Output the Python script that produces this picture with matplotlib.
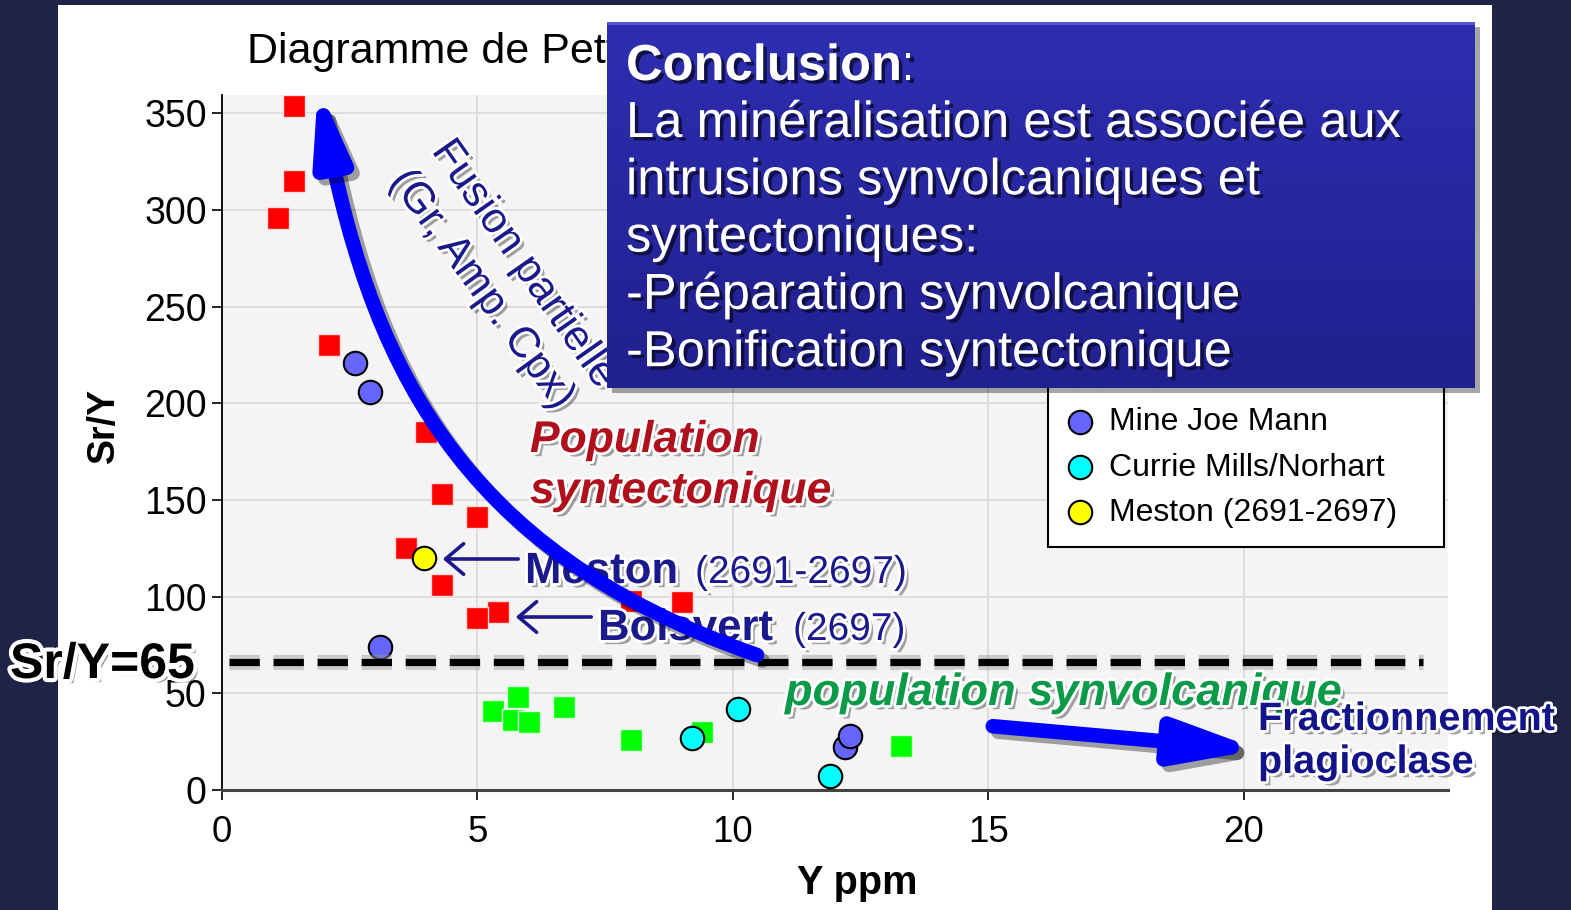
import numpy as np
import matplotlib
matplotlib.use("Agg")
import matplotlib.pyplot as plt
import matplotlib.patheffects as pe
from matplotlib.patches import FancyArrowPatch, Rectangle
from matplotlib.path import Path

W, H = 1571, 910
plt.rcParams['font.family'] = ['Liberation Sans', 'DejaVu Sans']

# --- data (Y ppm, Sr/Y) ---
synt_y = [1.4, 1.4, 1.1, 2.1, 4.0, 4.3, 5.0, 3.6, 4.3, 5.4, 5.0, 8.0, 9.0]
synt_sry = [354, 315, 296, 230, 185, 153, 141, 125, 106, 92, 89, 98, 97]
synv_y = [5.3, 5.8, 5.7, 6.0, 6.7, 8.0, 9.4, 13.3]
synv_sry = [41, 48, 36, 35, 43, 26, 30, 23]
joe_y = [2.6, 2.9, 3.1, 12.2, 12.3]
joe_sry = [221, 206, 74, 22, 28]
currie_y = [10.1, 9.2, 11.9]
currie_sry = [42, 27, 7]
meston_y = [3.95]
meston_sry = [120]
threshold = 66

legend_labels = ["Mine Joe Mann", "Currie Mills/Norhart", "Meston (2691-2697)"]
box_lines = ["La minéralisation est associée aux",
             "intrusions synvolcaniques et",
             "syntectoniques:",
             "-Préparation synvolcanique",
             "-Bonification syntectonique"]


def fp(px, py):
    # figure fraction from pixel position (top-left origin)
    return (px / W, 1 - py / H)


fig = plt.figure(figsize=(W / 100, H / 100), dpi=100)
fig.patch.set_facecolor('#1f2345')
fig.add_artist(Rectangle(fp(58, 910), (1492 - 58) / W, (910 - 5) / H,
                         transform=fig.transFigure, facecolor='white',
                         edgecolor='none', zorder=-1))

ax = fig.add_axes([222 / W, 1 - 790 / H, (1448 - 222) / W, (790 - 95) / H])
ax.set_facecolor('#f4f4f4')
ax.set_xlim(0, 24)
ax.set_ylim(0, 359.5)
ax.set_xticks([0, 5, 10, 15, 20])
ax.set_yticks(range(0, 351, 50))
ax.grid(True, color='#d9d9d9', lw=1.2)
ax.set_axisbelow(True)
for s in ['top', 'right']:
    ax.spines[s].set_visible(False)
ax.spines['left'].set_linewidth(1.3)
ax.spines['bottom'].set_linewidth(2.2)
ax.spines['bottom'].set_color('#444444')
ax.tick_params(axis='y', length=7, width=1.2, pad=4, labelsize=27)
ax.tick_params(axis='x', length=7, width=1.2, pad=11, labelsize=26.5)

ax.scatter(synt_y, synt_sry, marker='s', s=250, c='#ff0000',
           edgecolors='#ffdddd', linewidths=1.0, zorder=3)
ax.scatter(synv_y, synv_sry, marker='s', s=250, c='#00ff00',
           edgecolors='#ddffdd', linewidths=1.0, zorder=3)
jm = ax.scatter(joe_y, joe_sry, marker='o', s=285, c='#6666ff',
                edgecolors='black', linewidths=1.5, zorder=4)
cm = ax.scatter(currie_y, currie_sry, marker='o', s=285, c='#00ffff',
                edgecolors='black', linewidths=1.5, zorder=4)
me = ax.scatter(meston_y, meston_sry, marker='o', s=285, c='#ffff00',
                edgecolors='black', linewidths=1.5, zorder=4)

ax.axhline(threshold, xmin=0.006, xmax=0.98, color='black', lw=5.2,
           dashes=(4.2, 1.9), solid_capstyle='butt', zorder=5,
           path_effects=[pe.Stroke(linewidth=11, foreground='#999999', alpha=0.45),
                         pe.Normal()])

ax.set_xlabel("Y ppm", fontsize=28.5, fontweight='bold', va='baseline')
ax.xaxis.set_label_coords((857 - 222) / 1226, (790 - 894) / 695)
ax.set_ylabel("Sr/Y", fontsize=27, fontweight='bold', va='center')
ax.yaxis.set_label_coords((104 - 222) / 1226, (790 - 425) / 695)

leg = ax.legend(handles=[jm, cm, me], labels=legend_labels, loc='lower left',
                bbox_to_anchor=(1048 / W, 1 - 547 / H, (1444 - 1048) / W, 0.2),
                bbox_transform=fig.transFigure, mode='expand', frameon=True,
                fancybox=False, edgecolor='black', framealpha=1, fontsize=23,
                borderpad=0.6, handlelength=0.8, handletextpad=0.5,
                labelspacing=0.48, borderaxespad=0, scatterpoints=1,
                title=' ', title_fontsize=14)
leg.get_frame().set_linewidth(1.5)

fig.text(*fp(247, 63), "Diagramme de Petford", fontsize=31, va='baseline',
         ha='left', zorder=1)

# --- annotations ---
shadow = pe.SimplePatchShadow(offset=(3, -3), shadow_rgbFace='black', alpha=0.35)
outline = [shadow, pe.Stroke(linewidth=4, foreground='white'), pe.Normal()]
navy = '#1a1a8c'

fig.text(*fp(10, 678), "Sr/Y=65", fontsize=36, fontweight='bold', color='black',
         va='baseline', zorder=6,
         path_effects=[pe.SimplePatchShadow(offset=(3, -3), shadow_rgbFace='black', alpha=0.4),
                       pe.Stroke(linewidth=6, foreground='white'), pe.Normal()])

fig.text(*fp(431, 151), "Fusion partielle", fontsize=31, color=navy, rotation=-55,
         rotation_mode='anchor', ha='left', va='baseline', zorder=6, path_effects=outline)
fig.text(*fp(389, 181), "(Gr, Amp. Cpx)", fontsize=31, color=navy, rotation=-54,
         rotation_mode='anchor', ha='left', va='baseline', zorder=6, path_effects=outline)

red = '#b0101c'
fig.text(*fp(530, 452), "Population", fontsize=32, fontweight='bold', style='italic',
         color=red, va='baseline', zorder=6, path_effects=outline)
fig.text(*fp(530, 503), "syntectonique", fontsize=32, fontweight='bold', style='italic',
         color=red, va='baseline', zorder=6, path_effects=outline)

fig.text(*fp(525, 583), "Meston", fontsize=31.5, fontweight='bold', color=navy,
         va='baseline', zorder=6, path_effects=outline)
fig.text(*fp(695, 583), "(2691-2697)", fontsize=28, color=navy,
         va='baseline', zorder=6, path_effects=outline)
fig.text(*fp(598, 640), "Boisvert", fontsize=31.5, fontweight='bold', color=navy,
         va='baseline', zorder=6, path_effects=outline)
fig.text(*fp(793, 640), "(2697)", fontsize=28, color=navy,
         va='baseline', zorder=6, path_effects=outline)

fig.text(*fp(785, 705), "population synvolcanique", fontsize=32.5, fontweight='bold',
         style='italic', color='#0a9a48', va='baseline', zorder=6, path_effects=outline)

fig.text(*fp(1258, 730), "Fractionnement", fontsize=28.5, fontweight='bold',
         color='#14148a', va='baseline', zorder=8, path_effects=outline)
fig.text(*fp(1258, 773), "plagioclase", fontsize=28.5, fontweight='bold',
         color='#14148a', va='baseline', zorder=8, path_effects=outline)

# thin arrows pointing at Meston and Boisvert
for tail, tip in [((521, 559), (440, 559)), ((594, 617), (513, 617))]:
    fig.add_artist(FancyArrowPatch(fp(*tail), fp(*tip), transform=fig.transFigure,
                                   arrowstyle='->,head_length=0.65,head_width=0.55',
                                   mutation_scale=20, lw=2.6, color=navy, zorder=6))

arrow_fx = [pe.SimpleLineShadow(offset=(4, -4), shadow_color='black', alpha=0.35),
            pe.Normal()]

# big curved arrow (partial melting trend)
curve = [(757, 655), (455, 550), (368, 360), (318, 86)]
big = FancyArrowPatch(path=Path([fp(*p) for p in curve],
                                [Path.MOVETO, Path.CURVE4, Path.CURVE4, Path.CURVE4]),
                      transform=fig.transFigure,
                      arrowstyle='-|>,head_length=2.0,head_width=0.5',
                      mutation_scale=20, lw=10.5, color='#0000ff',
                      joinstyle='round', zorder=7, path_effects=arrow_fx)
fig.add_artist(big)

# arrow towards plagioclase fractionation
small = FancyArrowPatch(fp(990, 726), fp(1262, 750), transform=fig.transFigure,
                        arrowstyle='-|>,head_length=2.4,head_width=0.65',
                        mutation_scale=20, lw=10.5, color='#0000ff',
                        joinstyle='round', zorder=7, path_effects=arrow_fx)
fig.add_artist(small)

# --- conclusion box ---
bx0, by0, bx1, by1 = 607, 22, 1475, 388
fig.add_artist(Rectangle(fp(bx0 + 5, by1 + 5), (bx1 - bx0) / W, (by1 - by0) / H,
                         transform=fig.transFigure, facecolor='black', alpha=0.35,
                         edgecolor='none', zorder=9))
bax = fig.add_axes([bx0 / W, 1 - by1 / H, (bx1 - bx0) / W, (by1 - by0) / H], zorder=10)
grad = np.linspace(0, 1, 256)[:, None]
top_c = np.array([0x2e, 0x2e, 0xb2]) / 255
bot_c = np.array([0x20, 0x20, 0x8e]) / 255
img = top_c[None, None, :] * (1 - grad[..., None]) + bot_c[None, None, :] * grad[..., None]
bax.imshow(img, extent=[0, 1, 0, 1], aspect='auto')
bax.set_xlim(0, 1)
bax.set_ylim(0, 1)
bax.axhline(0.997, color='#5a5ad8', lw=2)
bax.axis('off')

txt_fx = [pe.SimplePatchShadow(offset=(2.5, -2.5), shadow_rgbFace='#0a0a30', alpha=0.8),
          pe.Normal()]
fig.text(*fp(626, 80), "Conclusion", fontsize=36.5, fontweight='bold', color='white',
         va='baseline', zorder=11, path_effects=txt_fx)
fig.text(*fp(901, 80), ":", fontsize=36.5, color='white', va='baseline', zorder=11,
         path_effects=txt_fx)
for i, line in enumerate(box_lines):
    fig.text(*fp(626, 137 + i * 57.3), line, fontsize=36.5, color='white',
             va='baseline', zorder=11, path_effects=txt_fx)

fig.savefig("out.png", dpi=100, facecolor=fig.get_facecolor())
